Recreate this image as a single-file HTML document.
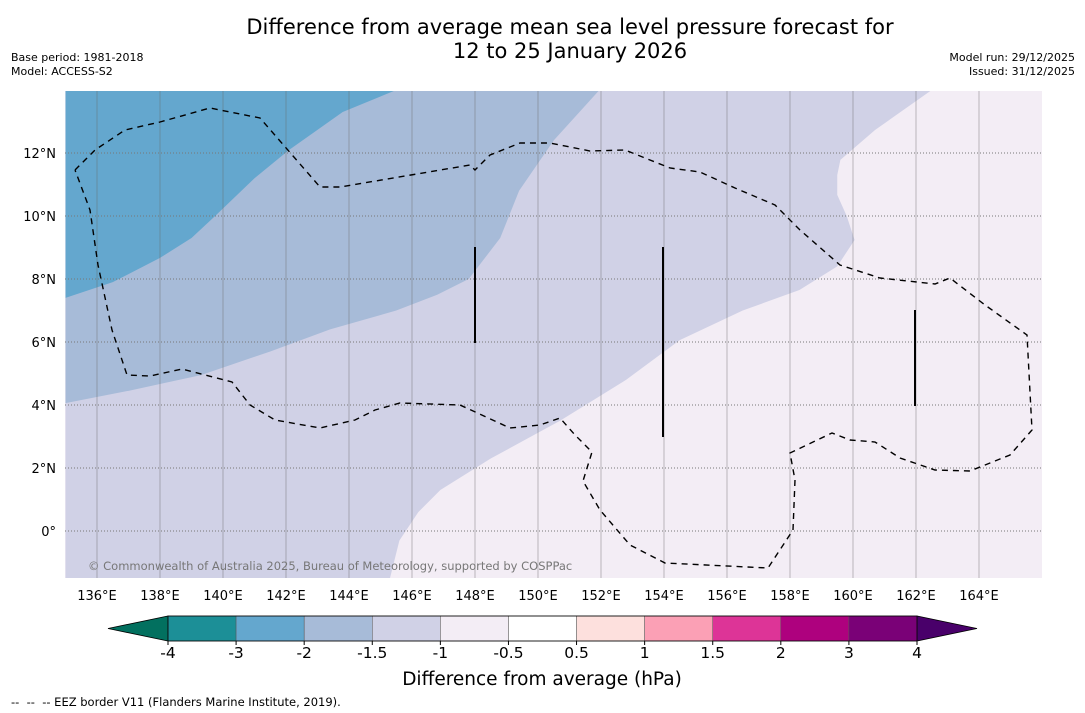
<!DOCTYPE html>
<html><head><meta charset="utf-8"><style>
body{margin:0;background:#fff;font-family:"DejaVu Sans","Liberation Sans",sans-serif;}
.t{position:absolute;font-size:11px;color:#000;}
svg text{font-family:"DejaVu Sans","Liberation Sans",sans-serif;}
</style></head><body>
<div style="position:relative;width:1085px;height:713px;overflow:hidden">
<div style="position:absolute;left:0;width:1140px;top:15px;text-align:center;font-size:21px;line-height:24px">Difference from average mean sea level pressure forecast for<br>12 to 25 January 2026</div>
<div class="t" style="left:11px;top:51px;line-height:14px">Base period: 1981-2018<br>Model: ACCESS-S2</div>
<div class="t" style="right:10px;top:51px;line-height:14px;text-align:right">Model run: 29/12/2025<br>Issued: 31/12/2025</div>
<svg id="svg" width="1085" height="713" style="position:absolute;left:0;top:0"></svg>
<div class="t" style="left:11px;top:695px;font-size:11.5px">--&nbsp; --&nbsp; -- EEZ border V11 (Flanders Marine Institute, 2019).</div>
</div>
<script>
const lonTicks=[136,138,140,142,144,146,148,150,152,154,156,158,160,162,164];
const latTicks=[12,10,8,6,4,2,0];
const cbTicks=["-4","-3","-2","-1.5","-1","-0.5","0.5","1","1.5","2","3","4"];
const cbColors=["#1c8f97","#64a7ce","#a7bbd8","#d0d1e6","#f3edf5","#ffffff","#fde0dd","#fba0b5","#dd3497","#ae017e","#7a0177"];
const zoneDarkBlue=[[135,14],[135,7.4],[136.5,7.9],[138,8.67],[139,9.3],[139.75,10.0],[141,11.2],[142.1,12.1],[143.8,13.3],[145.5,14]];
const zoneMidBlue=[[135,14],[135,4.06],[137,4.45],[139.3,4.95],[141.5,5.7],[143.4,6.4],[145.5,7.0],[146.8,7.5],[147.8,8.0],[148.8,9.3],[149.4,10.8],[150.5,12.4],[151.95,14]];
const zoneLight=[[135,14],[135,-1.5],[145.3,-1.5],[145.6,-0.3],[146.2,0.6],[146.9,1.3],[148.5,2.3],[150.7,3.5],[152.8,4.8],[154.5,6.06],[156.5,7.0],[158.3,7.65],[159.5,8.4],[160.05,9.24],[159.8,10.0],[159.5,10.67],[159.5,11.3],[159.6,11.78],[160.7,12.73],[162.5,14]];
const X0=65.5,Y0=531,S=31.5;
const xs=lon=>X0+(lon-135)*S, ys=lat=>Y0-lat*S;
const svg=document.getElementById('svg');const NS='http://www.w3.org/2000/svg';
function mk(t,a,p){const e=document.createElementNS(NS,t);for(const k in a)e.setAttribute(k,a[k]);(p||svg).appendChild(e);return e;}
const clip=mk('clipPath',{id:'c'});mk('rect',{x:65,y:91,width:977,height:487},clip);
const g=mk('g',{'clip-path':'url(#c)'});
let e=mk('rect',{x:65,y:91,width:977,height:487,fill:'#f3edf5'},g);

[[zoneLight,'#d0d1e6','zone-minus1-5'],[zoneMidBlue,'#a7bbd8','zone-minus2'],[zoneDarkBlue,'#64a7ce','zone-minus3']].forEach(([z,c,n])=>{
 const p=mk('polygon',{points:z.map(q=>xs(q[0])+','+ys(q[1])).join(' '),fill:c},g);
 });
lonTicks.forEach(l=>{const x=xs(l);
 const ln=mk('line',{x1:x,x2:x,y1:91,y2:578,stroke:'#666','stroke-width':0.6,'stroke-opacity':0.7},g);
 
 const t=mk('text',{x:x,y:600,'text-anchor':'middle','font-size':13});t.textContent=l+'°E';
 });
latTicks.forEach(l=>{const y=ys(l);
 const ln=mk('line',{x1:65,x2:1042,y1:y,y2:y,stroke:'#777','stroke-width':1,'stroke-dasharray':'1,2'},g);
 
 const t=mk('text',{x:56,y:y+5,'text-anchor':'end','font-size':13});t.textContent=l===0?'0°':l+'°N';
 });
const eez="75,170 95,150 125,130 160,122 210,108 260,118 320,187 340,187 470,165 475,170 490,155 520,143 550,143 590,151 625,150 670,168 700,172 735,188 775,205 800,230 840,265 880,278 935,284 950,278 985,305 1027,335 1032,430 1010,455 970,471 935,470 900,458 875,442 850,440 832,433 790,453 795,480 793,530 768,568 665,563 630,545 600,510 583,481 592,452 575,435 560,418 540,425 510,428 460,405 400,403 375,410 355,420 320,428 275,420 250,405 232,382 182,369 150,376 127,375 112,330 98,265 90,210 75,170";
e=mk('polyline',{points:eez,fill:'none',stroke:'#000','stroke-width':1.4,'stroke-dasharray':'6,5'},g);

[[475,247,343],[663,247,437],[915,310,406]].forEach(v=>{e=mk('line',{x1:v[0],x2:v[0],y1:v[1],y2:v[2],stroke:'#000','stroke-width':2},g);
 });
e=mk('text',{x:88,y:570,'font-size':11.5,fill:'#777'},g);e.textContent='© Commonwealth of Australia 2025, Bureau of Meteorology, supported by COSPPac';

const cbL=168,cbR=917,cbT=616,cbB=641,w=(cbR-cbL)/cbColors.length;
e=mk('polygon',{points:`108,628.5 ${cbL},${cbT} ${cbL},${cbB}`,fill:'#02705f',stroke:'#000','stroke-width':0.8});

e=mk('polygon',{points:`977,628.5 ${cbR},${cbT} ${cbR},${cbB}`,fill:'#49006a',stroke:'#000','stroke-width':0.8});

cbColors.forEach((c,i)=>{e=mk('rect',{x:cbL+i*w,y:cbT,width:w,height:cbB-cbT,fill:c,stroke:'#555','stroke-width':0.5});
 });
e=mk('rect',{x:cbL,y:cbT,width:cbR-cbL,height:cbB-cbT,fill:'none',stroke:'#000','stroke-width':0.8});
cbTicks.forEach((t,i)=>{const x=cbL+i*w;mk('line',{x1:x,x2:x,y1:cbB,y2:cbB+4,stroke:'#000'});
 e=mk('text',{x:x,y:658,'text-anchor':'middle','font-size':15.5});e.textContent=t;
 });
e=mk('text',{x:542,y:685,'text-anchor':'middle','font-size':18.5});e.textContent='Difference from average (hPa)';

</script>
</body></html>
